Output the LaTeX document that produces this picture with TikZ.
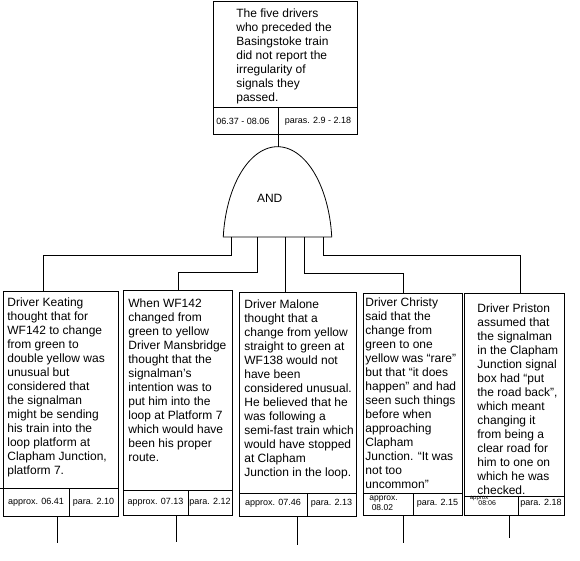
\documentclass[tikz,border=0pt]{standalone}
\usepackage{fontspec}
\setmainfont{Liberation Sans}
\begin{document}
\begin{tikzpicture}[x=1pt,y=-1pt,line width=0.8pt,
  card/.style={draw,rectangle,inner sep=0pt,outer sep=0pt,anchor=north west},
  body/.style={inner sep=0pt,anchor=north west,align=left,font=\fontsize{12}{14}\selectfont},
  foot/.style={inner sep=0pt,font=\fontsize{9}{10}\selectfont},
  tiny/.style={inner sep=0pt,anchor=west,font=\fontsize{6}{7}\selectfont},
  wire/.style={draw,line width=0.8pt}]
\useasboundingbox (0,0) rectangle (580,561);

% ---------- top event ----------
\node[card,minimum width=144pt,minimum height=133pt] (top) at (213,1) {};
\draw (213,107) -- (357,107);
\draw (278,107) -- (278,134);
\node[body] (toptext) at (236,8) {The five drivers\\who preceded the\\Basingstoke train\\did not report the\\irregularity of\\signals they\\passed.};
\node[foot,anchor=west] (topa) at (216,121) {06.37 - 08.06};
\node[foot] (topb) at (318,121) {paras. 2.9 - 2.18};
\coordinate (topout) at (278,134);

% ---------- AND gate ----------
\draw plot[domain=5.6:174.4,samples=80] ({277.5+54.5*cos(\x)},{246.7-100*sin(\x)}) -- cycle;
\node[inner sep=0pt,font=\fontsize{12}{14}\selectfont] (and) at (269.7,198.7) {AND};
\coordinate (apex) at (278,146.7);
\coordinate (g1) at (231.5,237);
\coordinate (g2) at (257.3,237);
\coordinate (g3) at (285.7,237);
\coordinate (g4) at (304.7,237);
\coordinate (g5) at (323,237);
\draw[wire] (topout) -- (apex);

% ---------- box 1 ----------
\node[card,minimum width=115pt,minimum height=225pt] (b1) at (3,291) {};
\draw (0,488) -- (118,488);
\draw (69,488) -- (69,516);
\node[body] (t1) at (7,297) {Driver Keating\\thought that for\\WF142 to change\\from green to\\double yellow was\\unusual but\\considered that\\the signalman\\might be sending\\his train into the\\loop platform at\\Clapham Junction,\\platform 7.};
\node[foot] (f1a) at (36,502) {approx. 06.41};
\node[foot] (f1b) at (93.5,502) {para. 2.10};

% ---------- box 2 ----------
\node[card,minimum width=109pt,minimum height=225pt] (b2) at (123,290) {};
\draw (123,490) -- (232,490);
\draw (188,490) -- (188,515);
\node[body] (t2) at (128,298) {When WF142\\changed from\\green to yellow\\Driver Mansbridge\\thought that the\\signalman’s\\intention was to\\put him into the\\loop at Platform 7\\which would have\\been his proper\\route.};
\node[foot] (f2a) at (155.5,502.5) {approx. 07.13};
\node[foot] (f2b) at (210,502.5) {para. 2.12};

% ---------- box 3 ----------
\node[card,minimum width=117pt,minimum height=224pt] (b3) at (239,292) {};
\draw (239,493) -- (357,493);
\draw (307,493) -- (307,516);
\node[body] (t3) at (244,299) {Driver Malone\\thought that a\\change from yellow\\straight to green at\\WF138 would not\\have been\\considered unusual.\\He believed that he\\was following a\\semi-fast train which\\would have stopped\\at Clapham\\Junction in the loop.};
\node[foot] (f3a) at (273,503) {approx. 07.46};
\node[foot] (f3b) at (331.5,503) {para. 2.13};

% ---------- box 4 ----------
\node[card,minimum width=99pt,minimum height=222pt] (b4) at (363,293) {};
\draw (363,493) -- (462,493);
\draw (413,493) -- (413,515);
\node[body] (t4) at (365,297) {Driver Christy\\said that the\\change from\\green to one\\yellow was “rare”\\but that “it does\\happen” and had\\seen such things\\before when\\approaching\\Clapham\\Junction. “It was\\not too\\uncommon”};
\node[inner sep=0pt,anchor=west,align=left,font=\fontsize{8.5}{9.5}\selectfont] (f4a) at (369,503) {approx.\\\ 08.02};
\node[foot] (f4b) at (437.5,503) {para. 2.15};

% ---------- box 5 ----------
\node[card,minimum width=100pt,minimum height=222pt] (b5) at (464,293) {};
\draw (464,496) -- (564,496);
\draw (518,496) -- (518,515);
\node[body] (t5) at (477,303) {Driver Priston\\assumed that\\the signalman\\in the Clapham\\Junction signal\\box had “put\\the road back”,\\which meant\\changing it\\from being a\\clear road for\\him to one on\\which he was\\checked.};
\node[tiny] (f5a) at (469.5,499) {approx};
\node[tiny,font=\fontsize{7}{8}\selectfont] (f5c) at (478,503.5) {08:06};
\node[foot] (f5b) at (541,503.5) {para. 2.18};

% ---------- inputs from gate ----------
\coordinate (i1) at (43,291);
\coordinate (i2) at (178,290);
\coordinate (i3) at (285.7,292);
\coordinate (i4) at (403,293);
\coordinate (i5) at (520,293);
\draw[wire] (g1) -- ++(0,18) -| (i1);
\draw[wire] (g2) -- ++(0,35) -| (i2);
\draw[wire] (g3) -- (i3);
\draw[wire] (g4) -- ++(0,36) -| (i4);
\draw[wire] (g5) -- ++(0,18) -| (i5);

% ---------- outputs below boxes ----------
\coordinate (o1) at (57,516);   \coordinate (e1) at (57,543);
\coordinate (o2) at (176,515);  \coordinate (e2) at (176,542);
\coordinate (o3) at (297,516);  \coordinate (e3) at (297,545);
\coordinate (o4) at (403,515);  \coordinate (e4) at (403,543);
\coordinate (o5) at (509,515);  \coordinate (e5) at (509,538);
\draw[wire] (o1) -- (e1);
\draw[wire] (o2) -- (e2);
\draw[wire] (o3) -- (e3);
\draw[wire] (o4) -- (e4);
\draw[wire] (o5) -- (e5);
\end{tikzpicture}
\end{document}
